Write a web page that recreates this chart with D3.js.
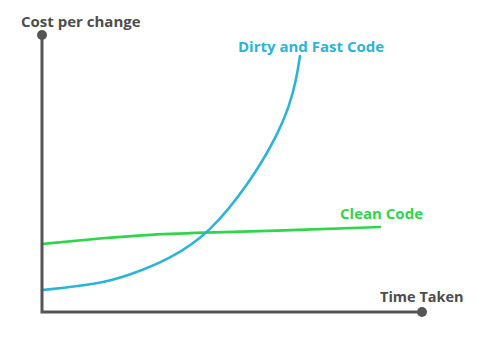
<!DOCTYPE html>
<html><head><meta charset="utf-8">
<script src="https://cdn.jsdelivr.net/npm/d3@7"></script>
<style>body{margin:0;background:#fff}svg{display:block}text{font-family:"Open Sans",sans-serif;font-weight:700}</style>
</head><body><svg id="c" width="498" height="347"></svg>
<script>
// Time (0-10) vs cost (0-10), abstract units
const dirtyX = [0, 1.447, 2.316, 3.368, 4.421, 5.474, 6.132, 6.526, 6.70, 6.789];
const dirtyY = [0.794, 0.993, 1.336, 1.913, 2.852, 4.693, 6.209, 7.473, 8.45, 9.242];
const cleanX = [0, 1.447, 2.842, 4.421, 6.789, 8.895];
const cleanY = [2.455, 2.653, 2.798, 2.87, 2.96, 3.069];
const labels = {y: "Cost per change", x: "Time Taken", dirty: "Dirty and Fast Code", clean: "Clean Code"};

const svg = d3.select("#c");
const x = d3.scaleLinear().domain([0, 10]).range([42, 422]);
const y = d3.scaleLinear().domain([0, 10]).range([312, 35]);
const axisCol = "#555555";

const line = d3.line().x(d => x(d[0])).y(d => y(d[1])).curve(d3.curveBasis);
svg.append("path").datum(cleanX.map((v,i)=>[v,cleanY[i]]))
  .attr("d", line).attr("fill","none").attr("stroke","#2fd54b").attr("stroke-width",2.6).attr("stroke-linecap","round");
svg.append("path").datum(dirtyX.map((v,i)=>[v,dirtyY[i]]))
  .attr("d", line).attr("fill","none").attr("stroke","#2bb4d6").attr("stroke-width",2.6).attr("stroke-linecap","round");

// axes
svg.append("path").attr("d", `M${x(0)},${y(10)}V${y(0)}H${x(10)}`)
  .attr("fill","none").attr("stroke",axisCol).attr("stroke-width",3);
svg.append("circle").attr("cx",x(0)).attr("cy",y(10)).attr("r",5).attr("fill",axisCol);
svg.append("circle").attr("cx",x(10)).attr("cy",y(0)).attr("r",5).attr("fill",axisCol);

svg.append("text").attr("x",21).attr("y",27).attr("font-size",15).attr("fill","#4d4d4d").text(labels.y);
svg.append("text").attr("x",380).attr("y",302).attr("font-size",14.5).attr("fill","#4d4d4d").text(labels.x);
svg.append("text").attr("x",238).attr("y",52).attr("font-size",15).attr("fill","#2bb4d6").text(labels.dirty);
svg.append("text").attr("x",340).attr("y",219).attr("font-size",15).attr("fill","#2fd54b").text(labels.clean);
</script></body></html>
